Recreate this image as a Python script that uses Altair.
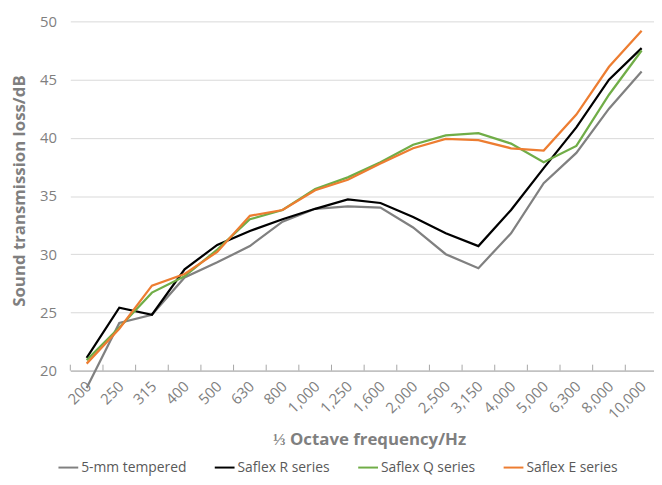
import altair as alt
import pandas as pd

freqs = ["200", "250", "315", "400", "500", "630", "800", "1,000", "1,250", "1,600",
         "2,000", "2,500", "3,150", "4,000", "5,000", "6,300", "8,000", "10,000"]

tempered_5mm = [18.5, 24.1, 24.8, 28.0, 29.3, 30.7, 32.8, 33.9, 34.1, 34.0,
                32.3, 30.0, 28.8, 31.8, 36.1, 38.7, 42.5, 45.7]
saflex_r = [21.1, 25.4, 24.8, 28.7, 30.8, 32.0, 33.0, 33.9, 34.7, 34.4,
            33.2, 31.8, 30.7, 33.8, 37.4, 40.9, 45.0, 47.7]
saflex_q = [20.9, 23.7, 26.7, 28.1, 30.4, 33.0, 33.8, 35.6, 36.6, 37.9,
            39.4, 40.2, 40.4, 39.5, 37.9, 39.3, 43.7, 47.5]
saflex_e = [20.6, 23.6, 27.3, 28.3, 30.2, 33.3, 33.8, 35.5, 36.4, 37.8,
            39.1, 39.9, 39.8, 39.1, 38.9, 42.0, 46.1, 49.2]

series_names = ["5-mm tempered", "Saflex R series", "Saflex Q series", "Saflex E series"]
series_colors = ["#808080", "#000000", "#70ad47", "#ed7d31"]
y_ticks = [20, 25, 30, 35, 40, 45, 50]

rows = []
for name, vals in zip(series_names, [tempered_5mm, saflex_r, saflex_q, saflex_e]):
    for i, (f, v) in enumerate(zip(freqs, vals)):
        rows.append({"freq": f, "loss": v, "series": name, "order": i})
df = pd.DataFrame(rows)
ticks_df = pd.DataFrame({"freq": freqs})

FONT = "Open Sans"
W, H = 590, 353
xscale = alt.Scale(type="band", domain=freqs, range=[0, 594], paddingInner=0, paddingOuter=0)

x_axis = alt.Axis(title="⅓ Octave frequency/Hz", labelAngle=-45, labelAlign="right",
                  labelBaseline="middle", labelPadding=13, labelOffset=2,
                  labelFontSize=15, labelColor="#7f7f7f", labelFont=FONT,
                  labelOverlap=False, labelFlush=False, labelBound=False,
                  ticks=False, grid=False, domainColor="#a6a6a6", domainWidth=1,
                  titleFont=FONT, titleFontSize=17, titleFontWeight="bold",
                  titleColor="#7f7f7f", titleX=302, titleY=70,
                  titleAlign="center", titleBaseline="middle")

lines = alt.Chart(df).mark_line(strokeWidth=2.25).encode(
    x=alt.X("freq:O", scale=xscale, bandPosition=0.5, sort=freqs, axis=x_axis),
    y=alt.Y("loss:Q", scale=alt.Scale(domain=[20, 50], nice=False, zero=False),
            axis=alt.Axis(title="Sound transmission loss/dB", values=y_ticks,
                          labelFontSize=15, labelColor="#7f7f7f", labelFont=FONT,
                          labelPadding=14, ticks=False, domain=False,
                          gridColor="#d9d9d9", gridWidth=1,
                          titleFont=FONT, titleFontSize=17, titleFontWeight="bold",
                          titleColor="#7f7f7f", titleX=-51, titleY=171,
                          titleAlign="center", titleBaseline="middle")),
    color=alt.Color("series:N", scale=alt.Scale(domain=series_names, range=series_colors),
                    title=None,
                    legend=alt.Legend(orient="none", legendX=-13, legendY=440,
                                      direction="horizontal", columns=4, columnPadding=24,
                                      symbolType="stroke", symbolSize=400, symbolStrokeWidth=2,
                                      labelOffset=2, labelFont=FONT, labelFontSize=14,
                                      labelColor="#595959", labelBaseline="middle")),
    order="order:Q",
    detail="series:N",
)

tick_marks = alt.Chart(ticks_df).mark_rule(color="#a6a6a6", strokeWidth=1).encode(
    x=alt.X("freq:O", scale=xscale, bandPosition=0, sort=freqs, axis=x_axis),
    y=alt.value(H - 6),
    y2=alt.value(H),
)

chart = alt.layer(lines, tick_marks).properties(
    width=W, height=H,
    autosize=alt.AutoSizeParams(type="none"),
    padding={"left": 63, "top": 11, "right": 0, "bottom": 105},
    background="white",
).configure_view(stroke=None)

chart.save("out.html", embed_options={"renderer": "svg", "actions": False})
